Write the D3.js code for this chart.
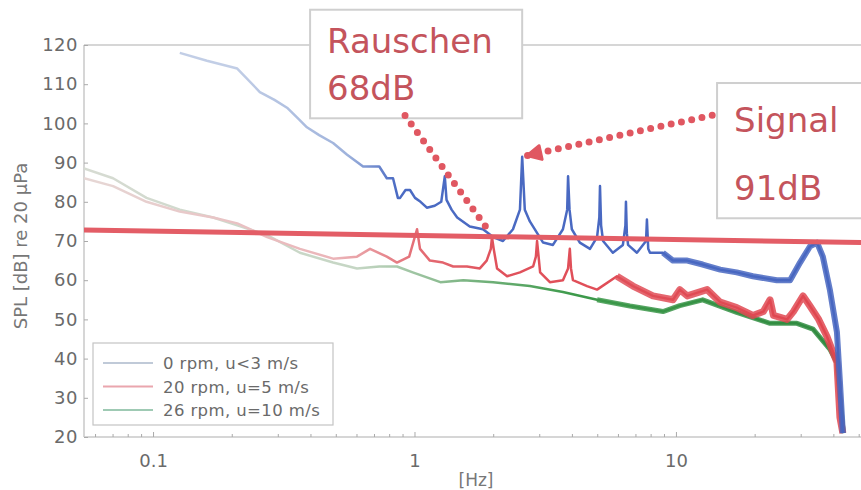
<!DOCTYPE html>
<html>
<head>
<meta charset="utf-8">
<script src="https://cdn.jsdelivr.net/npm/d3@7"></script>
<style>
  body { margin: 0; background: #fff; }
  svg { font-family: 'DejaVu Sans', sans-serif; }
</style>
</head>
<body>
<svg width="861" height="490"></svg>
<script>

// series: [frequency Hz, SPL dB]
const blueSeries = [
  [0.126,118],[0.16,116],[0.209,114],[0.255,108],[0.29,106],[0.324,104],[0.36,101],[0.386,99],
  [0.43,97],[0.486,95],[0.55,92],[0.633,89],[0.73,89],[0.78,86],[0.824,86],[0.86,81],[0.877,81],
  [0.92,83],[0.957,83],[1.0,81],[1.05,80],[1.11,78.5],[1.19,79],[1.26,80],[1.30,86.5],[1.32,80.5],
  [1.38,78],[1.45,76],[1.62,73.7],[1.82,73],[1.99,71],[2.17,70],[2.37,73],[2.52,78],[2.57,91.5],
  [2.63,78],[2.75,75],[3.09,69.6],[3.37,69],[3.68,73],[3.82,78],[3.85,86.5],[3.9,78],[3.98,73],
  [4.27,69.6],[4.67,68],[4.97,71],[5.07,76],[5.10,84],[5.15,74],[5.24,70],[5.71,67],[6.24,69],
  [6.38,74],[6.41,80],[6.46,72],[6.53,69],[7.06,67],[7.65,70],[7.71,75.5],[7.8,68],[7.92,67],
  [8.88,67],[9.70,65],[11,65],[12.6,64],[14.7,62.7],[17,62],[19.6,61],[24.2,60],[27.2,60],
  [29.7,64.5],[32.4,68.6],[34.5,69.6],[36.3,66],[38.6,57.6],[41.1,46.7],[42.2,34],[43.3,21]
]

const redSeries = [
  [0.0542,86],[0.07,84],[0.094,80],[0.126,77.5],[0.169,76],[0.209,74.5],[0.272,71],[0.363,68],
  [0.486,65.5],[0.6,66],[0.673,68],[0.78,66],[0.853,64.5],[0.95,66],[1.018,73],[1.045,68],
  [1.14,65],[1.28,64.5],[1.40,63.5],[1.58,63.5],[1.77,63],[1.88,65],[1.95,68],[1.97,71],[2.0,68],
  [2.06,63],[2.25,61],[2.52,62],[2.83,63.5],[2.9,66],[2.93,70],[2.97,66],[3.01,62],[3.28,59.5],
  [3.68,60],[3.85,63],[3.91,68],[3.95,63],[4.02,60],[4.55,58.5],[4.97,57.6],[5.92,61],[6.82,58.5],
  [8.13,56],[9.70,55],[10.3,57.6],[11,56],[13.1,57.6],[14.7,54.4],[17,53],[19.6,51],[21.5,52],
  [22.8,55],[23.5,51],[26.5,50],[28,52],[30.5,56],[32.4,53.4],[35,50],[37.6,45.7],[41.1,39],
  [42.2,25],[43.3,21]
]

const greenSeries = [
  [0.0542,88.5],[0.07,86],[0.094,81],[0.126,78],[0.169,76],[0.209,74],[0.272,71.5],[0.363,67],
  [0.486,64.5],[0.6,63],[0.73,63.5],[0.853,63.5],[0.98,62],[1.25,59.5],[1.53,60],[1.99,59.5],
  [2.75,58.5],[3.68,57],[4.97,55],[6.64,53.4],[8.88,52],[10.3,53.5],[12.6,55],[17,51.8],
  [22.8,49],[28.9,49],[33.3,47.5],[38.6,42.4],[41.1,39],[42.9,25],[43.5,21]
]

// the red reference line drawn across the plot
const levelLine = [[0.0542,72.8],[50.8,69.6]]

const yTicks = [20,30,40,50,60,70,80,90,100,110,120]
const xTicks = [0.1,1,10]
const legendLabels = ['0 rpm, u<3 m/s','20 rpm, u=5 m/s','26 rpm, u=10 m/s']

// callouts: box corners and arrow in data coordinates
const callouts = [
  { lines: ['Rauschen','68dB'], box: [[0.397,129],[2.57,101.3]], lineGap: 47,
    from: [0.916,102], to: [1.935,72.2], head: false },
  { lines: ['Signal','91dB'], box: [[14.3,110.3],[70,75.8]], lineGap: 68,
    from: [13.7,102.1], to: [2.68,91.8], head: true }
]

let svg = d3.select('svg'),
    width = +svg.attr('width'),
    height = +svg.attr('height')

let margin = { left: 84, top: 45, right: 0, bottom: 53 }

let x = d3.scaleLog().domain([0.0542, 50.8]).range([margin.left, width - margin.right])
let y = d3.scaleLinear().domain([20, 120]).range([height - margin.bottom, margin.top])

let defs = svg.append('defs')
defs.append('clipPath').attr('id', 'plot')
  .append('rect')
  .attr('x', margin.left).attr('y', margin.top - 3)
  .attr('width', width - margin.left).attr('height', y(20) - margin.top + 3)

function fade(id, stops) {
  let g = defs.append('linearGradient').attr('id', id)
    .attr('gradientUnits', 'userSpaceOnUse')
    .attr('x1', x(stops[0][0])).attr('x2', x(stops[stops.length - 1][0]))
    .attr('y1', 0).attr('y2', 0)
  let x0 = x(stops[0][0]), x1 = x(stops[stops.length - 1][0])
  stops.forEach(s => {
    g.append('stop').attr('offset', (x(s[0]) - x0) / (x1 - x0)).attr('stop-color', s[1])
  })
}
fade('blueFade', [[0.2,'#c2cee6'],[0.55,'#9fb3dc'],[0.85,'#4b6bc3'],[40,'#4766c0']])
fade('redFade', [[0.06,'#e6d6d4'],[0.5,'#ebb4b8'],[1.0,'#e46e76'],[2,'#e0525c'],[40,'#e0464f']])
fade('greenFade', [[0.06,'#d6dbd2'],[0.6,'#c5d6c4'],[1.5,'#7fb686'],[4,'#3d9a4b'],[40,'#2f8a3f']])

// frame
let frame = svg.append('g').attr('stroke', '#c9c9c9').attr('stroke-width', 1.5).attr('fill', 'none')
frame.append('line').attr('x1', margin.left).attr('x2', width).attr('y1', y(120)).attr('y2', y(120))
frame.append('line').attr('x1', margin.left).attr('x2', width).attr('y1', y(20)).attr('y2', y(20))
frame.append('line').attr('x1', margin.left).attr('x2', margin.left).attr('y1', y(120)).attr('y2', y(20))

// y axis
let yAxis = svg.append('g')
  .attr('transform', `translate(${margin.left},0)`)
  .call(d3.axisLeft(y).tickValues(yTicks).tickSize(-4).tickPadding(6).tickFormat(d3.format('d')))
yAxis.select('.domain').remove()
yAxis.selectAll('line').attr('stroke', '#aaa')
yAxis.selectAll('text').attr('font-size', 18).attr('fill', '#6a6a6a')
  .attr('font-family', 'DejaVu Sans').attr('letter-spacing', 0.5)

// x axis with log minor ticks
let minor = []
for (let d = 0.01; d < 100; d *= 10) {
  for (let k = 2; k < 10; k++) {
    let v = d * k
    if (v > x.domain()[0] && v < x.domain()[1]) minor.push(v)
  }
}
svg.append('g').selectAll('line').data(minor.concat(xTicks)).enter().append('line')
  .attr('x1', d => x(d)).attr('x2', d => x(d))
  .attr('y1', y(20)).attr('y2', d => y(20) - (xTicks.includes(d) ? 5 : 3))
  .attr('stroke', '#aaa')

svg.append('g').selectAll('text').data(xTicks).enter().append('text')
  .attr('x', d => x(d)).attr('y', 467)
  .attr('text-anchor', 'middle').attr('font-size', 18).attr('fill', '#6a6a6a')
  .text(d => d)

svg.append('text')
  .attr('x', 476).attr('y', 486)
  .attr('text-anchor', 'middle').attr('font-size', 17).attr('fill', '#777')
  .text('[Hz]')

svg.append('text')
  .attr('transform', `translate(27,${(y(120) + y(20)) / 2 + 5}) rotate(-90)`)
  .attr('text-anchor', 'middle').attr('font-size', 18).attr('fill', '#777')
  .text('SPL [dB] re 20 µPa')

// data lines; the noisy high-frequency part is drawn as a wider band
let line = d3.line().x(d => x(d[0])).y(d => y(d[1]))
let plot = svg.append('g').attr('clip-path', 'url(#plot)')

let series = [
  { data: greenSeries, stroke: 'url(#greenFade)', w: 2.5, band: 5, from: 4.5 },
  { data: redSeries, stroke: 'url(#redFade)', w: 2.5, band: 7, from: 5.5 },
  { data: blueSeries, stroke: 'url(#blueFade)', w: 2.5, band: 6, from: 8.5 }
]
series.forEach(s => {
  plot.append('path')
    .datum(s.data.filter(d => d[0] >= s.from))
    .attr('d', line)
    .attr('fill', 'none').attr('stroke', s.stroke)
    .attr('stroke-width', s.band).attr('stroke-linejoin', 'round').attr('opacity', 0.85)
  plot.append('path')
    .datum(s.data)
    .attr('d', line)
    .attr('fill', 'none').attr('stroke', s.stroke)
    .attr('stroke-width', s.w).attr('stroke-linejoin', 'round')
})

plot.append('path')
  .datum(levelLine)
  .attr('d', line)
  .attr('fill', 'none').attr('stroke', '#e35d66').attr('stroke-width', 5)

// legend
let legend = svg.append('g')
legend.append('rect')
  .attr('x', 93).attr('y', 343).attr('width', 240).attr('height', 82)
  .attr('fill', '#fff').attr('stroke', '#c4c4c4').attr('stroke-width', 1.2)
let legendColors = ['#c0cad8', '#eaa6ae', '#9fcab4']
legendLabels.forEach((t, i) => {
  let ly = 363 + i * 23.5
  legend.append('line')
    .attr('x1', 103).attr('x2', 153).attr('y1', ly).attr('y2', ly)
    .attr('stroke', legendColors[i]).attr('stroke-width', 2)
  legend.append('text')
    .attr('x', 163).attr('y', ly + 6)
    .attr('font-size', 16.5).attr('fill', '#6a6a6a').attr('letter-spacing', 0.4)
    .text(t)
})

// callouts
let calloutRed = '#e05761'
callouts.forEach(c => {
  let x0 = x(c.box[0][0]), y0 = y(c.box[0][1])
  let x1 = x(c.box[1][0]), y1 = y(c.box[1][1])
  svg.append('rect')
    .attr('x', x0).attr('y', y0).attr('width', x1 - x0).attr('height', y1 - y0)
    .attr('fill', '#fff').attr('stroke', '#cfcfcf').attr('stroke-width', 2)
  c.lines.forEach((t, i) => {
    svg.append('text')
      .attr('x', x0 + 17).attr('y', y0 + 43 + i * c.lineGap + (c.head ? 6 : 0))
      .attr('font-size', 34).attr('fill', '#c4545c')
      .text(t)
  })
  let fx = x(c.from[0]), fy = y(c.from[1]), tx = x(c.to[0]), ty = y(c.to[1])
  svg.append('line')
    .attr('x1', fx).attr('y1', fy).attr('x2', tx).attr('y2', ty)
    .attr('stroke', calloutRed).attr('stroke-width', 7)
    .attr('stroke-linecap', 'round').attr('stroke-dasharray', '0 10.5')
  if (c.head) {
    let a = Math.atan2(ty - fy, tx - fx)
    let p = [[tx, ty],
      [tx - 14 * Math.cos(a) + 7 * Math.sin(a), ty - 14 * Math.sin(a) - 7 * Math.cos(a)],
      [tx - 14 * Math.cos(a) - 7 * Math.sin(a), ty - 14 * Math.sin(a) + 7 * Math.cos(a)]]
    svg.append('polygon')
      .attr('points', p.map(d => d.join(',')).join(' '))
      .attr('fill', calloutRed).attr('stroke', calloutRed)
      .attr('stroke-width', 3).attr('stroke-linejoin', 'round')
  }
})

</script>
</body>
</html>
